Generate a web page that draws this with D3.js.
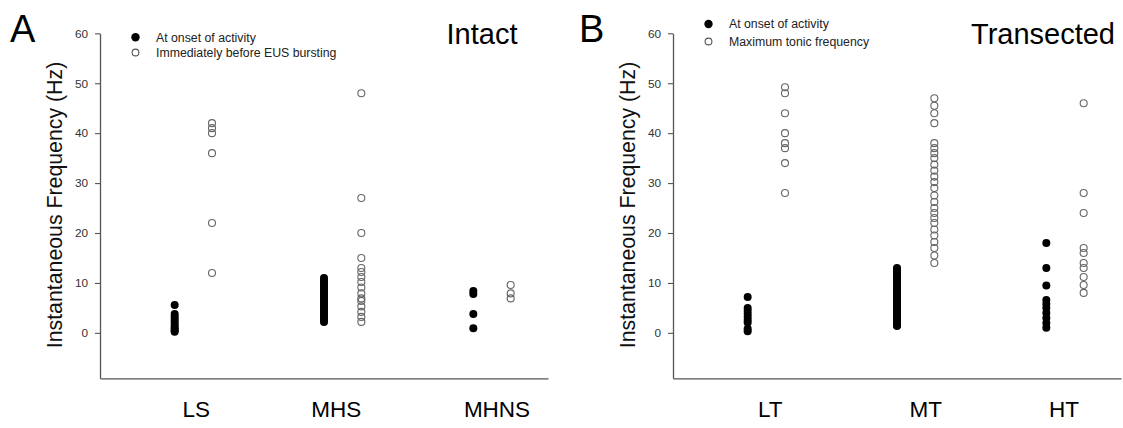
<!DOCTYPE html>
<html>
<head>
<meta charset="utf-8">
<script src="https://cdn.jsdelivr.net/npm/d3@7"></script>
<style>
  html, body { margin: 0; padding: 0; background: #fff; }
  svg { display: block; font-family: "Liberation Sans", Arial, sans-serif; }
</style>
</head>
<body>
<svg id="chart" width="1123" height="428"></svg>
<script>
// ---------------- DATA ----------------
const yTicks = [0, 10, 20, 30, 40, 50, 60];

// Panel A (Intact)
const intactCategories = ["LS", "MHS", "MHNS"];
const intactLegend = ["At onset of activity", "Immediately before EUS bursting"];
const LS_onset = [5.6, 3.8, 3.3, 2.8, 2.3, 1.8, 1.3, 0.9, 0.5, 0.2];
const LS_before = [42, 41, 40, 36, 22, 12];
const MHS_onset = [11, 10.6, 10.2, 9.8, 9.3, 8.9, 8.5, 8.1, 7.7, 7.3, 6.9, 6.5, 6.1, 5.7, 5.3, 4.9, 4.5, 4.1, 3.7, 3.3, 2.9, 2.5, 2.2];
const MHS_before = [48, 27, 20, 15, 13, 12.2, 11.2, 10.2, 9.1, 7.9, 6.9, 6.4, 5.3, 4.2, 3.2, 2.2];
const MHNS_onset = [8.4, 7.8, 3.8, 0.9];
const MHNS_before = [9.6, 7.9, 6.9];

// Panel B (Transected)
const transectedCategories = ["LT", "MT", "HT"];
const transectedLegend = ["At onset of activity", "Maximum tonic frequency"];
const LT_onset = [7.2, 5.0, 4.4, 3.8, 3.2, 2.6, 2.1, 0.8, 0.3];
const LT_max = [49.2, 48, 44, 40, 38, 37, 34, 28];
const MT_onset = [13, 12.6, 12.2, 11.7, 11.3, 10.9, 10.5, 10.1, 9.6, 9.2, 8.8, 8.4, 8.0, 7.6, 7.2, 6.8, 6.4, 6.0, 5.6, 5.2, 4.8, 4.4, 4.0, 3.6, 3.2, 2.8, 2.4, 2.0, 1.6, 1.4];
const MT_max = [47, 45.5, 44, 42, 38, 37, 36, 35, 33.7, 32.5, 31.3, 30.2, 29, 27.5, 26.2, 25, 24, 23, 22, 20.7, 19.5, 18.2, 17, 15.5, 14];
const HT_onset = [18, 13, 9.5, 6.6, 5.8, 5.0, 4.0, 3.0, 2.0, 1.0];
const HT_max = [46, 28, 24, 17, 16, 14, 13, 11.2, 9.6, 8];

// ---------------- LAYOUT ----------------
const svg = d3.select("#chart");
const yDomain = [-9.1, 60];
const yRange = [378.3, 33.3];

function drawPanel(cfg) {
  const g = svg.append("g");
  const x = d3.scaleLinear().domain([0, 12]).range([cfg.left, cfg.right]);
  const y = d3.scaleLinear().domain(yDomain).range(yRange);

  // y axis
  const yAxis = g.append("g")
    .attr("transform", `translate(${cfg.left},0)`)
    .call(d3.axisLeft(y).tickValues(yTicks).tickSize(5).tickSizeOuter(0).tickPadding(7));
  yAxis.select(".domain").attr("stroke", "#555").attr("stroke-width", 1.3);
  yAxis.selectAll(".tick line").attr("stroke", "#555").attr("stroke-width", 1.1);
  yAxis.selectAll(".tick text").attr("fill", "#333").attr("font-size", 11.8)
    .attr("font-family", "Liberation Sans, Arial, sans-serif");

  // x axis (line only)
  const xAxis = g.append("g")
    .attr("transform", `translate(0,${yRange[0]})`)
    .call(d3.axisBottom(x).tickValues([]).tickSizeOuter(0));
  xAxis.select(".domain").attr("stroke", "#555").attr("stroke-width", 1.3);

  // y axis title
  g.append("text")
    .attr("transform", `translate(${cfg.left - 45},205) rotate(-90)`)
    .attr("text-anchor", "middle")
    .attr("dominant-baseline", "central")
    .attr("font-size", 21.3)
    .attr("fill", "#111")
    .text("Instantaneous Frequency (Hz)");

  // points
  cfg.categories.forEach((cat, i) => {
    const center = 4 * i + 2.5;
    const onset = cfg.onset[i], other = cfg.other[i];
    g.append("g").selectAll("circle").data(other).join("circle")
      .attr("cx", x(center + 0.5)).attr("cy", d => y(d))
      .attr("r", 3.5).attr("fill", "none").attr("stroke", "#666").attr("stroke-width", 1.1);
    g.append("g").selectAll("circle").data(onset).join("circle")
      .attr("cx", x(center - 0.5)).attr("cy", d => y(d))
      .attr("r", 4).attr("fill", "#000");
    // category label
    g.append("text")
      .attr("x", x(center) + cfg.labelNudge[i])
      .attr("y", 416.5)
      .attr("text-anchor", "middle")
      .attr("font-size", 22.5)
      .attr("fill", "#000")
      .text(cat);
  });

  // legend
  const lg = g.append("g");
  lg.append("circle").attr("cx", cfg.left + 35.5).attr("cy", cfg.legendY[0]).attr("r", 4.2).attr("fill", "#000");
  lg.append("circle").attr("cx", cfg.left + 35.5).attr("cy", cfg.legendY[1]).attr("r", 3.4)
    .attr("fill", "none").attr("stroke", "#555").attr("stroke-width", 1.1);
  cfg.legend.forEach((t, k) => {
    lg.append("text")
      .attr("x", cfg.left + 56)
      .attr("y", cfg.legendY[k] + 4.3)
      .attr("font-size", 12.3)
      .attr("fill", "#222")
      .text(t);
  });

  // panel letter
  g.append("text").attr("x", cfg.letterX).attr("y", 41.5)
    .attr("font-size", 38).attr("fill", "#000").text(cfg.letter);
  // condition title
  g.append("text").attr("x", cfg.titleX).attr("y", 44.3)
    .attr("text-anchor", "end").attr("font-size", 29).attr("fill", "#000").text(cfg.title);
}

drawPanel({
  left: 100, right: 548,
  categories: intactCategories,
  onset: [LS_onset, MHS_onset, MHNS_onset],
  other: [LS_before, MHS_before, MHNS_before],
  legend: intactLegend,
  legendY: [37.3, 52.5],
  labelNudge: [3, -6.5, 5],
  letter: "A", letterX: 10,
  title: "Intact", titleX: 517.5
});

drawPanel({
  left: 673, right: 1121,
  categories: transectedCategories,
  onset: [LT_onset, MT_onset, HT_onset],
  other: [LT_max, MT_max, HT_max],
  legend: transectedLegend,
  legendY: [24, 41.5],
  labelNudge: [4, 10, -1],
  letter: "B", letterX: 579,
  title: "Transected", titleX: 1115
});
</script>
</body>
</html>
